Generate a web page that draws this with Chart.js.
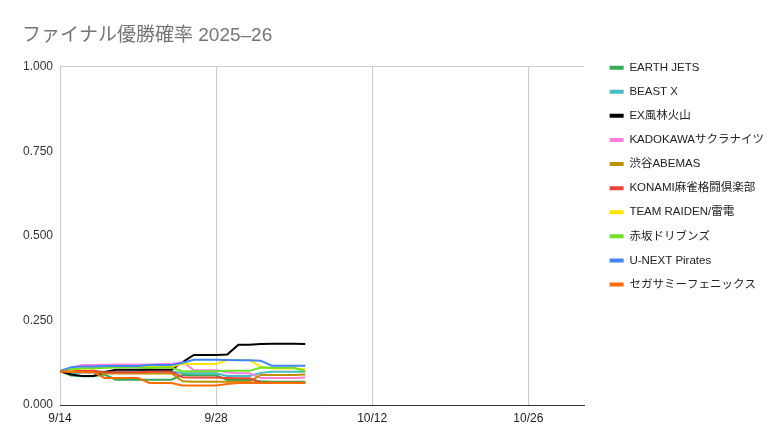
<!DOCTYPE html>
<html>
<head>
<meta charset="utf-8">
<script src="https://cdn.jsdelivr.net/npm/chart.js@4.4.1/dist/chart.umd.min.js"></script>
<style>
  html, body { margin: 0; padding: 0; background: #fff; }
  #wrap { width: 780px; height: 448px; }
</style>
</head>
<body>
<div id="wrap"><canvas id="chart"></canvas></div>
<script>
// one value per day, 9/14 .. 10/6
const dates = ['9/14', '9/15', '9/16', '9/17', '9/18', '9/19', '9/20', '9/21', '9/22', '9/23', '9/24', '9/25',
  '9/26', '9/27', '9/28', '9/29', '9/30', '10/1', '10/2', '10/3', '10/4', '10/5', '10/6'];
const tickDates = ['9/14', '9/28', '10/12', '10/26'];
const lastDate = '10/31';

const teams = ['EARTH JETS', 'BEAST X', 'EX風林火山', 'KADOKAWAサクラナイツ', '渋谷ABEMAS',
  'KONAMI麻雀格闘倶楽部', 'TEAM RAIDEN/雷電', '赤坂ドリブンズ', 'U-NEXT Pirates', 'セガサミーフェニックス'];
const colors = ['#34a853', '#46bdc6', '#000000', '#ff7fdf', '#bf9000',
  '#ea4335', '#ffe500', '#6fe024', '#4285f4', '#ff6d01'];

const earthJets = [.100, .087, .085, .085, .090, .075, .075, .075, .075, .075, .075, .089,
  .088, .088, .088, .074, .074, .074, .070, .069, .069, .069, .069];
const beastX = [.100, .093, .096, .096, .099, .100, .100, .100, .101, .100, .100, .094,
  .094, .094, .094, .086, .086, .086, .095, .098, .098, .098, .098];
const furinKazan = [.100, .090, .086, .086, .097, .104, .104, .104, .105, .104, .104, .127,
  .148, .148, .148, .149, .178, .178, .180, .181, .181, .181, .180];
const kadokawa = [.100, .110, .118, .118, .119, .120, .120, .120, .120, .121, .121, .127,
  .103, .103, .103, .097, .094, .094, .080, .080, .080, .080, .081];
const abemas = [.100, .098, .099, .099, .093, .093, .093, .093, .094, .093, .093, .070,
  .069, .069, .069, .069, .069, .069, .089, .089, .089, .089, .090];
const konami = [.100, .100, .101, .101, .097, .097, .097, .097, .098, .098, .098, .082,
  .081, .081, .081, .080, .079, .079, .066, .066, .066, .066, .066];
const raiden = [.100, .105, .108, .108, .110, .112, .112, .112, .113, .114, .114, .121,
  .121, .121, .121, .133, .133, .133, .113, .108, .108, .108, .106];
const drivens = [.100, .106, .109, .109, .110, .111, .111, .111, .110, .111, .111, .099,
  .100, .100, .100, .101, .101, .101, .111, .110, .110, .110, .100];
const pirates = [.100, .112, .114, .114, .115, .115, .115, .115, .118, .118, .118, .125,
  .134, .134, .134, .133, .132, .132, .131, .116, .116, .116, .116];
const phoenix = [.100, .098, .097, .097, .080, .080, .080, .080, .065, .065, .065, .058,
  .058, .058, .058, .062, .065, .065, .065, .065, .065, .065, .065];

const series = [earthJets, beastX, furinKazan, kadokawa, abemas, konami, raiden, drivens, pirates, phoenix];

// days since 9/14
const dayOf = (s) => {
  const [m, d] = s.split('/').map(Number);
  return (Date.UTC(2025, m - 1, d) - Date.UTC(2025, 8, 14)) / 86400000;
};
const labelOf = (n) => {
  const dt = new Date(Date.UTC(2025, 8, 14 + n));
  return (dt.getUTCMonth() + 1) + '/' + dt.getUTCDate();
};

// put the legend next to the plot like the sheet does
const legendNudge = {
  id: 'legendNudge',
  afterLayout(chart) {
    const lg = chart.legend;
    const area = chart.chartArea;
    const dx = area.right + 13 - lg.left;
    const dy = area.top - 17.5 - lg.top;
    lg.left += dx; lg.right += dx;
    lg.top += dy; lg.bottom += dy;
  }
};

Chart.defaults.font.family = "'Liberation Sans', Arial, 'Noto Sans CJK JP', sans-serif";
Chart.defaults.color = '#222';

const ctx = document.getElementById('chart').getContext('2d');
new Chart(ctx, {
  type: 'line',
  data: {
    datasets: teams.map((name, i) => ({
      label: name,
      data: series[i].map((v, j) => ({ x: dayOf(dates[j]), y: v })),
      borderColor: colors[i],
      backgroundColor: colors[i],
      borderWidth: 2,
      pointRadius: 0,
      tension: 0,
      fill: false,
      order: teams.length - 1 - i
    }))
  },
  options: {
    responsive: true,
    maintainAspectRatio: false,
    animation: false,
    devicePixelRatio: 1,
    layout: { padding: { left: 22, right: 19, top: 0, bottom: 0 } },
    plugins: {
      title: {
        display: true,
        text: 'ファイナル優勝確率 2025–26',
        align: 'start',
        color: '#757575',
        font: { size: 19, weight: 'normal' },
        padding: { top: 24, bottom: 20 }
      },
      legend: {
        position: 'right',
        align: 'start',
        labels: {
          boxWidth: 14,
          boxHeight: 4,
          padding: 12.6,
          color: '#222',
          font: { size: 11.5 },
          sort: (a, b) => a.datasetIndex - b.datasetIndex,
          generateLabels: (chart) =>
            Chart.defaults.plugins.legend.labels.generateLabels(chart).map(l => ({ ...l, lineWidth: 0 }))
        }
      },
      tooltip: { enabled: false }
    },
    scales: {
      x: {
        type: 'linear',
        min: dayOf(dates[0]),
        max: dayOf(lastDate),
        afterBuildTicks: (scale) => { scale.ticks = tickDates.map(s => ({ value: dayOf(s) })); },
        afterFit: (scale) => { scale.height = 43; },
        grid: { color: '#cccccc', drawTicks: false },
        border: { display: true, color: '#333333', width: 1 },
        ticks: { padding: 6, font: { size: 12 }, color: '#222', callback: (v) => labelOf(v), maxRotation: 0 }
      },
      y: {
        min: 0,
        max: 1,
        afterBuildTicks: (scale) => { scale.ticks = [0, 0.25, 0.5, 0.75, 1].map(v => ({ value: v })); },
        afterFit: (scale) => { scale.width = 38; },
        grid: {
          drawTicks: false,
          color: (c) => (c.tick && c.tick.value === 1 ? '#cccccc' : 'rgba(0,0,0,0)')
        },
        border: { display: false },
        ticks: { padding: 7, font: { size: 12 }, color: '#333', callback: (v) => v.toFixed(3) }
      }
    }
  },
  plugins: [legendNudge]
});
</script>
</body>
</html>
